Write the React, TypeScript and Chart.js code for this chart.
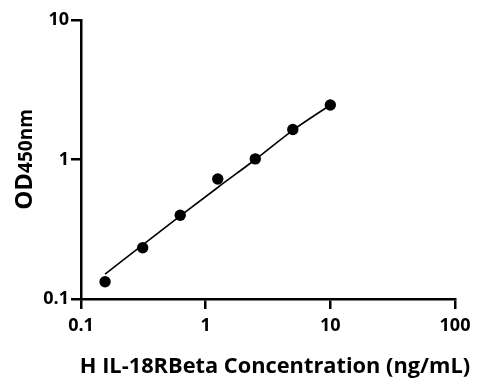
import React, { useEffect, useRef } from "react";
import { Chart, registerables } from "chart.js";

Chart.register(...registerables);

const concentrations = [0.156, 0.3125, 0.625, 1.25, 2.5, 5, 10];
const odValues = [0.133, 0.233, 0.398, 0.724, 1.01, 1.64, 2.46];
const fitValues = [0.151, 0.244, 0.394, 0.63, 1.0, 1.62, 2.46];
const xTicks = [0.1, 1, 10, 100];
const yTicks = [0.1, 1, 10];
const xTitle = "H IL-18RBeta Concentration (ng/mL)";
const yTitleMain = "OD";
const yTitleSub = "450nm";

const FONT = "'Open Sans', 'DejaVu Sans', sans-serif";

const titlesPlugin = {
  id: "titlesPlugin",
  afterDraw(chart: any) {
    const { ctx, chartArea } = chart;
    ctx.save();
    ctx.fillStyle = "#000";
    // y title
    ctx.save();
    const cy = (chartArea.top + chartArea.bottom) / 2;
    ctx.translate(32, cy);
    ctx.rotate(-Math.PI / 2);
    ctx.textBaseline = "alphabetic";
    ctx.textAlign = "left";
    ctx.font = `bold 24px ${FONT}`;
    const w1 = ctx.measureText(yTitleMain).width;
    ctx.font = `bold 19px ${FONT}`;
    const w2 = ctx.measureText(yTitleSub).width;
    const start = -(w1 + w2) / 2;
    ctx.font = `bold 24px ${FONT}`;
    ctx.fillText(yTitleMain, start, 0);
    ctx.font = `bold 19px ${FONT}`;
    ctx.fillText(yTitleSub, start + w1, 0);
    ctx.restore();
    // x title
    ctx.font = `bold 21.8px ${FONT}`;
    ctx.textAlign = "center";
    ctx.textBaseline = "alphabetic";
    ctx.fillText(xTitle, (chartArea.left + chartArea.right) / 2 + 7, 373);
    ctx.restore();
  },
};

export default function App() {
  const ref = useRef<HTMLCanvasElement>(null);
  useEffect(() => {
    document.body.style.margin = "0";
    const chart = new Chart(ref.current!, {
      type: "line",
      data: {
        datasets: [
          {
            label: "fit",
            data: concentrations.map((x, i) => ({ x, y: fitValues[i] })),
            borderColor: "#000",
            borderWidth: 1.6,
            pointRadius: 0,
            cubicInterpolationMode: "monotone",
            fill: false,
          },
          {
            label: "points",
            data: concentrations.map((x, i) => ({ x, y: odValues[i] })),
            showLine: false,
            borderColor: "#000",
            backgroundColor: "#000",
            pointRadius: 5.7,
            pointBackgroundColor: "#000",
            pointBorderWidth: 0,
          },
        ],
      },
      plugins: [titlesPlugin],
      options: {
        animation: false,
        responsive: false,
        layout: { padding: { left: 0, top: 20, right: 28, bottom: 0 } },
        plugins: { legend: { display: false }, tooltip: { enabled: false } },
        scales: {
          x: {
            type: "logarithmic",
            min: 0.1,
            max: 100,
            afterBuildTicks: (s: any) => {
              s.ticks = xTicks.map((v) => ({ value: v }));
            },
            afterFit: (s: any) => {
              s.height = 92;
            },
            ticks: {
              color: "#000",
              font: { family: FONT, size: 18, weight: "bold" },
              padding: 6,
              maxRotation: 0,
              autoSkip: false,
              callback: (v: any) => String(v),
            },
            grid: {
              drawOnChartArea: false,
              drawTicks: true,
              tickLength: 10,
              color: "#000",
              lineWidth: 2.5,
            },
            border: { display: true, color: "#000", width: 2.5 },
          },
          y: {
            type: "logarithmic",
            min: 0.1,
            max: 10,
            afterBuildTicks: (s: any) => {
              s.ticks = yTicks.map((v) => ({ value: v }));
            },
            afterFit: (s: any) => {
              s.width = 81;
            },
            ticks: {
              color: "#000",
              font: { family: FONT, size: 18, weight: "bold" },
              padding: 2,
              autoSkip: false,
              callback: (v: any) => String(v),
            },
            grid: {
              drawOnChartArea: false,
              drawTicks: true,
              tickLength: 10,
              color: "#000",
              lineWidth: 2.5,
            },
            border: { display: true, color: "#000", width: 2.5 },
          },
        },
      },
    } as any);
    return () => chart.destroy();
  }, []);
  return <canvas ref={ref} width={483} height={391} style={{ display: "block" }} />;
}
